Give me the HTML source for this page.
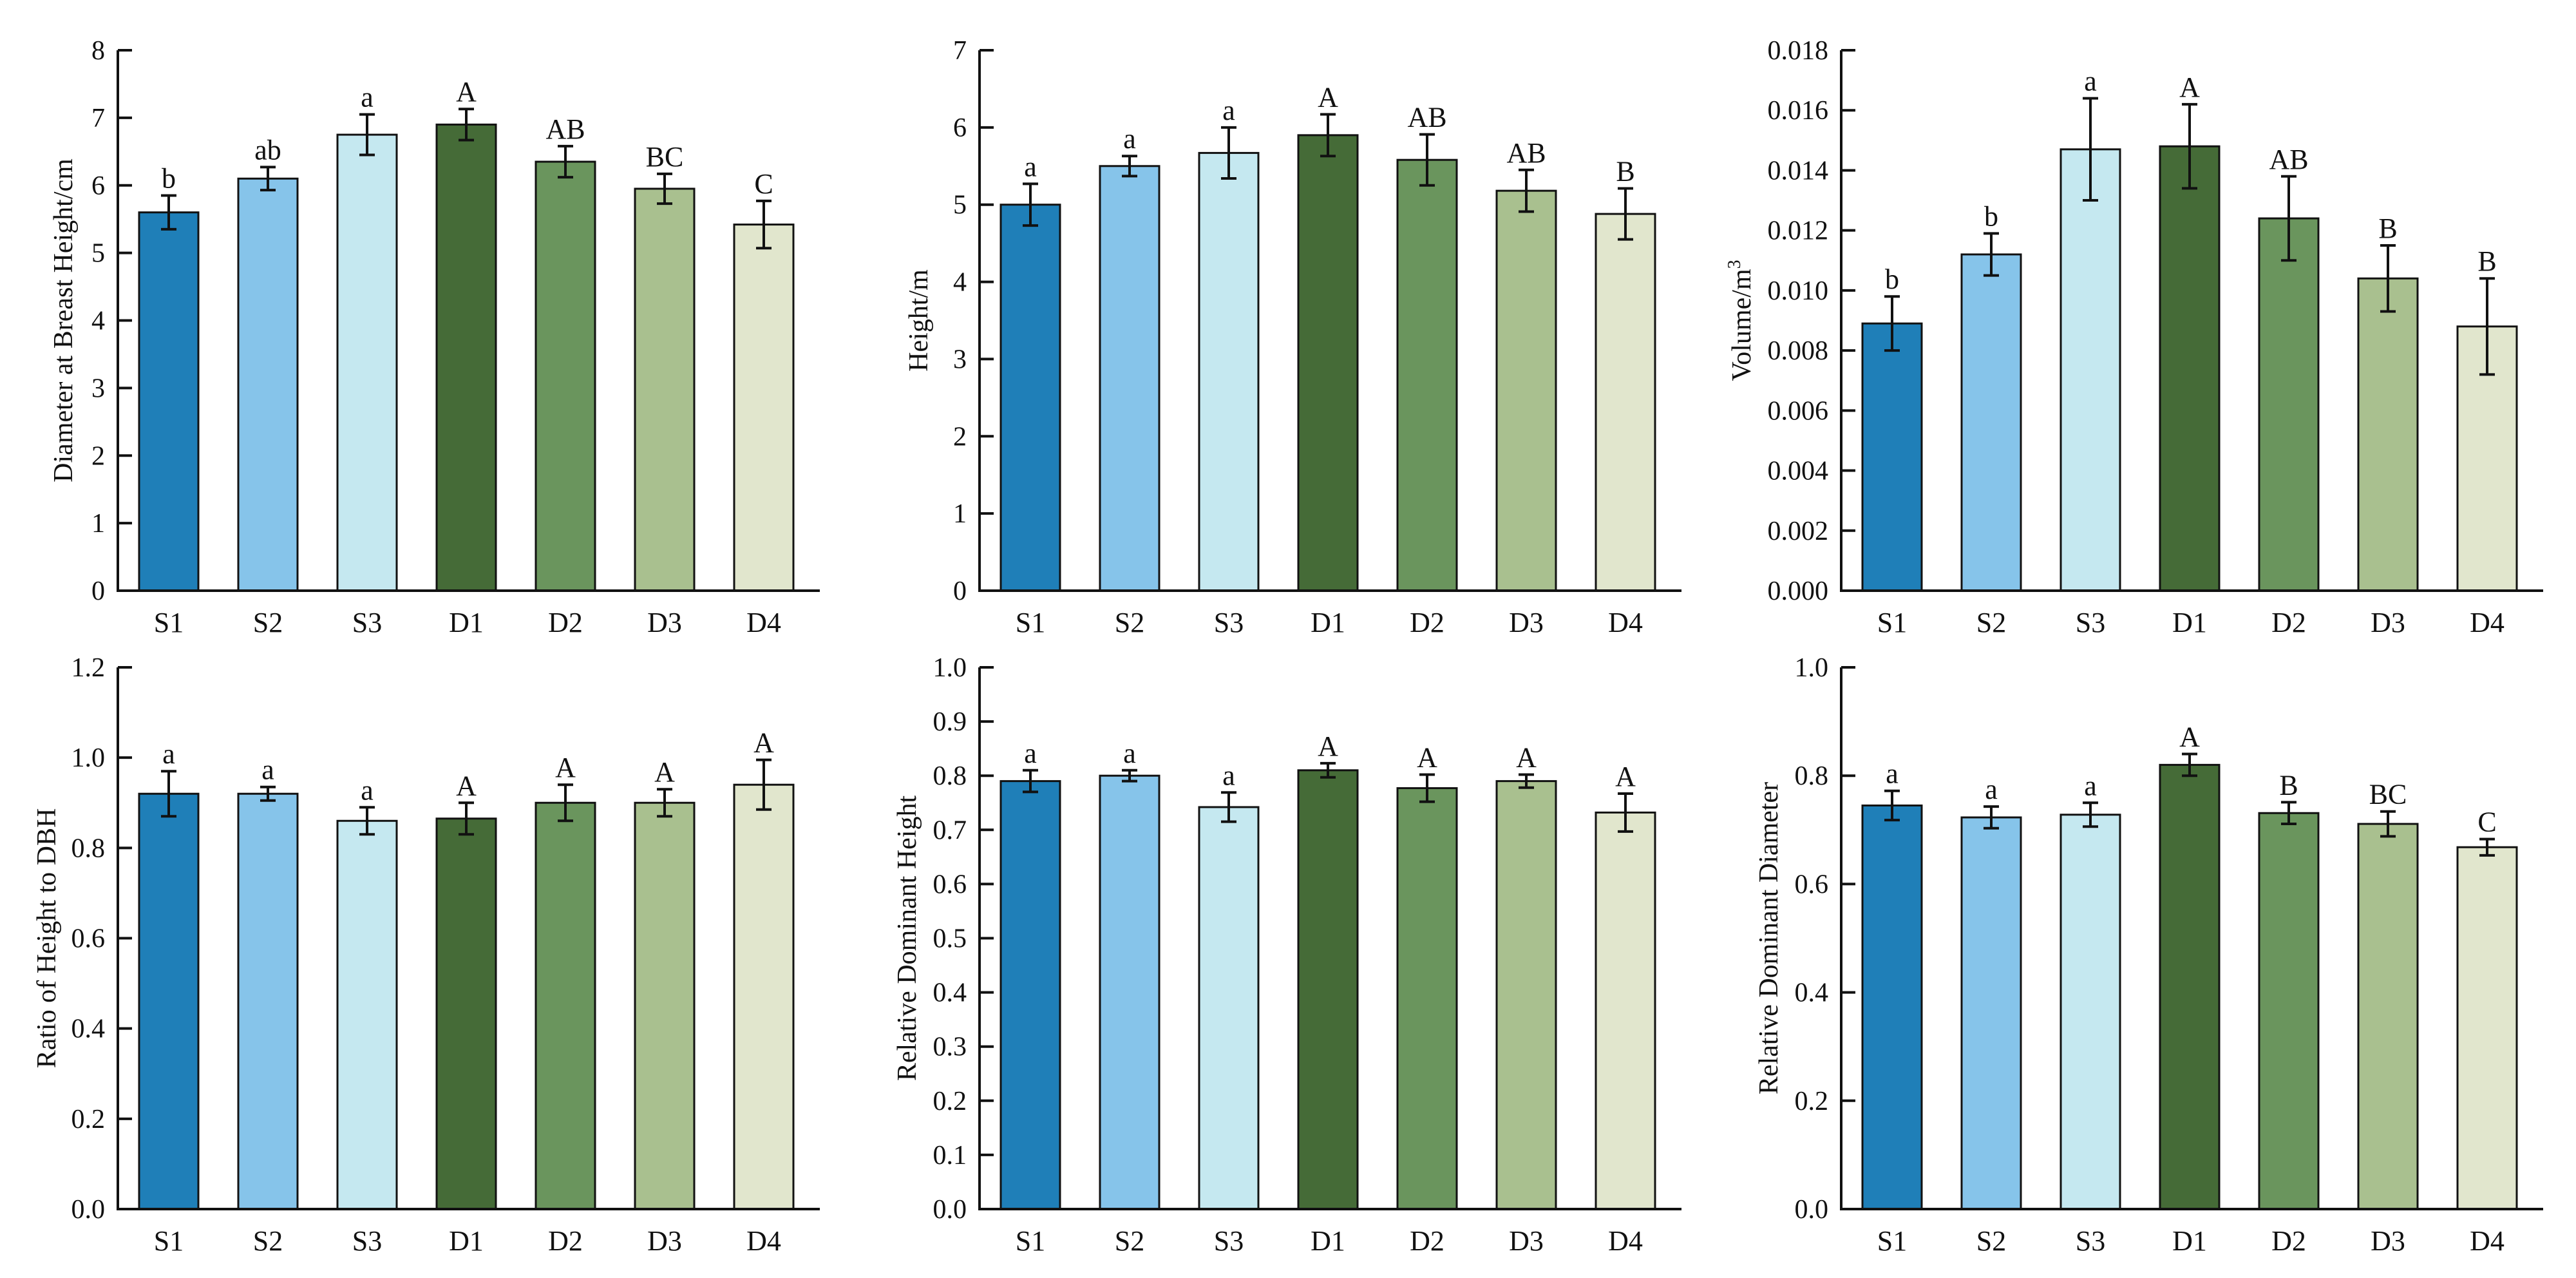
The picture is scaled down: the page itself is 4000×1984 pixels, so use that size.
<!DOCTYPE html>
<html><head><meta charset="utf-8">
<style>
html,body{margin:0;padding:0;background:#fff;}
svg{display:block;}
text{font-family:"Liberation Serif",serif;fill:#111;}
</style></head>
<body>
<svg id="fig" width="4000" height="1984" viewBox="0 0 4000 1984" xmlns="http://www.w3.org/2000/svg"></svg>
<script>
const categories = ["S1","S2","S3","D1","D2","D3","D4"];
const colors = ["#1f7fb8","#86c4ea","#c5e8f0","#456b37","#6a955d","#a9c08f","#e1e6cd"];

const dbhValues = [5.6,6.1,6.75,6.9,6.35,5.95,5.42];
const dbhErrors = [0.25,0.17,0.3,0.23,0.23,0.22,0.35];
const dbhLetters = ["b","ab","a","A","AB","BC","C"];
const dbhTicks = ["0","1","2","3","4","5","6","7","8"];

const heightValues = [5.0,5.5,5.67,5.9,5.58,5.18,4.88];
const heightErrors = [0.27,0.13,0.33,0.27,0.33,0.27,0.33];
const heightLetters = ["a","a","a","A","AB","AB","B"];
const heightTicks = ["0","1","2","3","4","5","6","7"];

const volumeValues = [0.0089,0.0112,0.0147,0.0148,0.0124,0.0104,0.0088];
const volumeErrors = [0.0009,0.0007,0.0017,0.0014,0.0014,0.0011,0.0016];
const volumeLetters = ["b","b","a","A","AB","B","B"];
const volumeTicks = ["0.000","0.002","0.004","0.006","0.008","0.010","0.012","0.014","0.016","0.018"];

const ratioValues = [0.92,0.92,0.86,0.865,0.90,0.90,0.94];
const ratioErrors = [0.05,0.015,0.03,0.035,0.04,0.03,0.055];
const ratioLetters = ["a","a","a","A","A","A","A"];
const ratioTicks = ["0.0","0.2","0.4","0.6","0.8","1.0","1.2"];

const rdhValues = [0.79,0.80,0.742,0.81,0.777,0.79,0.732];
const rdhErrors = [0.02,0.01,0.027,0.013,0.025,0.012,0.035];
const rdhLetters = ["a","a","a","A","A","A","A"];
const rdhTicks = ["0.0","0.1","0.2","0.3","0.4","0.5","0.6","0.7","0.8","0.9","1.0"];

const rddValues = [0.745,0.723,0.728,0.82,0.731,0.711,0.668];
const rddErrors = [0.027,0.02,0.022,0.02,0.02,0.023,0.015];
const rddLetters = ["a","a","a","A","B","BC","C"];
const rddTicks = ["0.0","0.2","0.4","0.6","0.8","1.0"];

const NS = "http://www.w3.org/2000/svg";
const svg = document.getElementById("fig");
function mk(tag, attrs, parent){
  const e = document.createElementNS(NS, tag);
  for (const k in attrs) e.setAttribute(k, attrs[k]);
  (parent||svg).appendChild(e);
  return e;
}

function panel(cfg){
  const g = mk("g", {});
  
  
  const ax = cfg.ax, top = cfg.top, bot = cfg.bot, W = 1090;
  const ticks = cfg.ticks.map(Number);
  const ymin = ticks[0], ymax = ticks[ticks.length-1];
  const y = v => bot - (v - ymin) / (ymax - ymin) * (bot - top);
  const step = 154, first = ax + 79, bw = 92;
  const xc = i => first + i * step;

  // bars
  categories.forEach((c, i) => {
    const v = cfg.values[i], e = cfg.errors[i];
    const r = mk("rect", {x: xc(i)-bw/2, y: y(v), width: bw, height: bot - y(v), fill: colors[i], stroke: "#111", "stroke-width": 3}, g);
    
    
    const eb = mk("path", {d: `M${xc(i)},${y(v+e)}V${y(v-e)}M${xc(i)-12},${y(v+e)}H${xc(i)+12}M${xc(i)-12},${y(v-e)}H${xc(i)+12}`, stroke: "#111", "stroke-width": 4, fill: "none"}, g);
    
    
    const lt = mk("text", {x: xc(i), y: y(v+e) - 12, "font-size": 44, "text-anchor": "middle"}, g);
    lt.textContent = cfg.letters[i];
    
    
    const xl = mk("text", {x: xc(i), y: bot + 64, "font-size": 44, "text-anchor": "middle"}, g);
    xl.textContent = c;
    
    
  });

  // axes
  const axes = mk("path", {d: `M${ax},${top}V${bot}H${ax+W}`, stroke: "#111", "stroke-width": 4, fill: "none"}, g);
  
  
  cfg.ticks.forEach(t => {
    const yy = y(Number(t));
    mk("line", {x1: ax, x2: ax+22, y1: yy, y2: yy, stroke: "#111", "stroke-width": 4}, g);
    const tl = mk("text", {x: ax - 20, y: yy + 14, "font-size": 42, "text-anchor": "end"}, g);
    tl.textContent = t;
    
    
  });
  const yt = mk("text", {x: 0, y: 0, "font-size": 42, "text-anchor": "middle", transform: `translate(${cfg.labelX},${(top+bot)/2}) rotate(-90)`}, g);
  yt.textContent = cfg.title;
  
  
  if (cfg.sup){ const s = mk("tspan", {"font-size": 28, dy: -16}, yt); s.textContent = cfg.sup; }
}

panel({name:"dbh-chart", ax:183, top:78, bot:917, ticks:dbhTicks, values:dbhValues, errors:dbhErrors, letters:dbhLetters, title:"Diameter at Breast Height/cm", labelX:112});
panel({name:"height-chart", ax:1521, top:78, bot:917, ticks:heightTicks, values:heightValues, errors:heightErrors, letters:heightLetters, title:"Height/m", labelX:1440});
panel({name:"volume-chart", ax:2859, top:78, bot:917, ticks:volumeTicks, values:volumeValues, errors:volumeErrors, letters:volumeLetters, title:"Volume/m", sup:"3", labelX:2718});
panel({name:"ratio-chart", ax:183, top:1036, bot:1877, ticks:ratioTicks, values:ratioValues, errors:ratioErrors, letters:ratioLetters, title:"Ratio of Height to DBH", labelX:86});
panel({name:"relative-dominant-height-chart", ax:1521, top:1036, bot:1877, ticks:rdhTicks, values:rdhValues, errors:rdhErrors, letters:rdhLetters, title:"Relative Dominant Height", labelX:1422});
panel({name:"relative-dominant-diameter-chart", ax:2859, top:1036, bot:1877, ticks:rddTicks, values:rddValues, errors:rddErrors, letters:rddLetters, title:"Relative Dominant Diameter", labelX:2760});
</script>
</body></html>
